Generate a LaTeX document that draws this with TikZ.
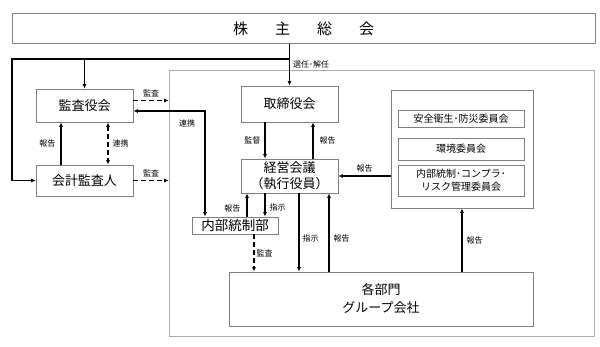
\documentclass[tikz,border=0pt]{standalone}
\usepackage{fontspec}
\setmainfont{Noto Sans CJK JP}
\usetikzlibrary{arrows.meta}
\definecolor{frame}{RGB}{128,128,128}
\definecolor{faint}{RGB}{172,172,172}
\tikzset{
  unit/.style={draw=frame, line width=0.8pt, fill=white, inner sep=0pt,
              align=center, font=\fontsize{13}{17}\selectfont},
  sub/.style={unit, font=\fontsize{10}{13}\selectfont, minimum width=126pt},
  panel/.style={draw=faint, line width=0.8pt, inner sep=0pt},
  flow/.style={-{Latex[length=4.5pt,width=4pt]}, line width=1.1pt},
  twoway/.style={{Latex[length=4.5pt,width=4pt]}-{Latex[length=4.5pt,width=4pt]}, line width=1.1pt},
  audit/.style={flow, dash pattern=on 5pt off 3pt},
  tag/.style={font=\fontsize{8}{9}\selectfont, inner sep=1pt},
}
\begin{document}
\begin{tikzpicture}[x=1pt, y=-1pt]
  \useasboundingbox (0,0) rectangle (600,347);
  % frames
  \node[panel, minimum width=425pt, minimum height=266pt] (grp) at (381.5,203) {};
  \node[unit, minimum width=583pt, minimum height=30pt, font=\fontsize{15}{18}\selectfont] (gm) at (303.5,28.5)
        {株\hspace{1.8em}主\hspace{1.8em}総\hspace{1.8em}会};
  \node[unit, minimum width=97pt, minimum height=33pt] (kansa) at (84.5,105.5) {監査役会};
  \node[unit, minimum width=97pt, minimum height=31pt] (auditor) at (84.5,180.5) {会計監査人};
  \node[unit, minimum width=97pt, minimum height=36pt] (board) at (289.5,104) {取締役会};
  \node[unit, minimum width=97pt, minimum height=34pt, font=\fontsize{13}{16}\selectfont] (mgmt) at (289.5,176)
        {経営会議\\（執行役員）};
  \node[unit, minimum width=86pt, minimum height=17pt, font=\fontsize{13.5}{16}\selectfont] (internal) at (235,225.5) {内部統制部};
  \node[unit, minimum width=142pt, minimum height=118pt] (cmte) at (462,149) {};
  \node[sub, minimum height=17pt] (c1) at (461,119) {安全衛生･防災委員会};
  \node[sub, minimum height=22pt] (c2) at (461,149) {環境委員会};
  \node[sub, minimum height=31pt] (c3) at (461,180.5) {内部統制･コンプラ･\\リスク管理委員会};
  \node[unit, minimum width=304pt, minimum height=54pt, font=\fontsize{13}{18}\selectfont] (dept) at (381,299)
        {各部門\\グループ会社};

  % election
  \coordinate (fork) at (289.5,59);
  \coordinate (edge) at (12,59);
  \draw[flow] (board.north |- gm.south) -- (board.north);
  \draw[flow] (fork) -- (edge) |- (auditor.west);
  \draw[flow] (kansa.north |- fork) -- (kansa.north);
  \node[tag, anchor=west] (elect) at (292,64.5) {選任･解任};

  % audit side
  \draw[audit] ([yshift=5pt]kansa.east) -- ([yshift=5pt]kansa.east -| grp.west)
        node[tag, midway, above=2pt] (au1) {監査};
  \draw[audit] (auditor.east) -- (auditor.east -| grp.west)
        node[tag, midway, above=2pt] (au2) {監査};
  \draw[twoway] ([yshift=-5.5pt]kansa.east) -| ([xshift=-30pt]internal.north);
  \node[tag] (tie1) at (187,123.5) {連携};
  \draw[twoway, dash pattern=on 5pt off 3pt] ([xshift=23.5pt]kansa.south) -- ([xshift=23.5pt]auditor.north)
        node[tag, midway, right=3pt] (tie2) {連携};
  \draw[flow] ([xshift=-23.5pt]auditor.north) -- ([xshift=-23.5pt]kansa.south)
        node[tag, midway, left=4pt] (rep1) {報告};

  % execution
  \draw[flow] ([xshift=-24.5pt]board.south) -- ([xshift=-24.5pt]mgmt.north)
        node[tag, midway, left=3pt] (sup) {監督};
  \draw[flow] ([xshift=23.5pt]mgmt.north) -- ([xshift=23.5pt]board.south)
        node[tag, midway, right=5pt] (rep2) {報告};
  \draw[flow] (mgmt.east -| cmte.west) -- (mgmt.east)
        node[tag, midway, above=2pt] (rep3) {報告};
  \draw[flow] ([xshift=12pt]internal.north) -- ([xshift=12pt]internal.north |- mgmt.south)
        node[tag, pos=0.35, left=5pt] (rep4) {報告};
  \draw[flow] ([xshift=30pt]internal.north |- mgmt.south) -- ([xshift=30pt]internal.north)
        node[tag, pos=0.6, right=3pt] (ord1) {指示};
  \draw[audit] ([xshift=19pt]internal.south) -- ([xshift=19pt]internal.south |- dept.north)
        node[tag, midway, right=1pt] (au3) {監査};
  \draw[flow] ([xshift=9.5pt]mgmt.south) -- ([xshift=9.5pt]mgmt.south |- dept.north)
        node[tag, pos=0.58, right=2pt] (ord2) {指示};
  \draw[flow] ([xshift=39.5pt]mgmt.south |- dept.north) -- ([xshift=39.5pt]mgmt.south)
        node[tag, pos=0.42, right=3pt] (rep5) {報告};
  \draw[flow] (cmte.south |- dept.north) -- (cmte.south)
        node[tag, midway, right=3pt] (rep6) {報告};
\end{tikzpicture}
\end{document}
